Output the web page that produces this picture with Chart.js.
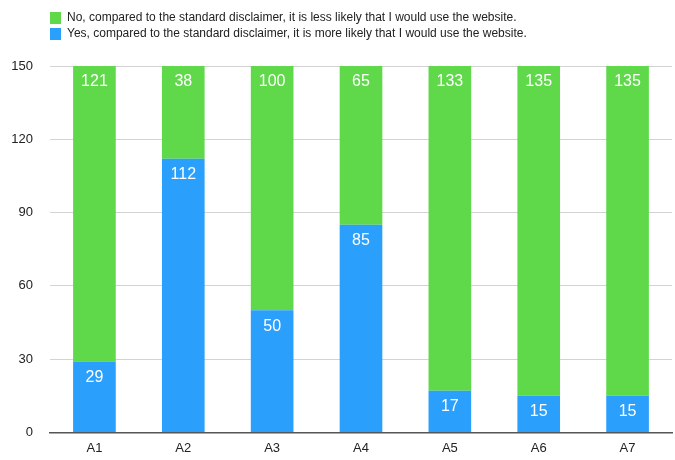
<!DOCTYPE html>
<html>
<head>
<meta charset="utf-8">
<script src="https://cdn.jsdelivr.net/npm/chart.js@4"></script>
<style>
  html, body { margin: 0; padding: 0; background: #fff; }
  #wrap { width: 675px; height: 460px; position: relative; }
</style>
</head>
<body>
<div id="wrap"><canvas id="chart"></canvas></div>
<script>
var categories = ["A1", "A2", "A3", "A4", "A5", "A6", "A7"];
var yesValues = [29, 112, 50, 85, 17, 15, 15];
var noValues = [121, 38, 100, 65, 133, 135, 135];
var yesLabel = "Yes, compared to the standard disclaimer, it is more likely that I would use the website.";
var noLabel = "No, compared to the standard disclaimer, it is less likely that I would use the website.";

Chart.defaults.font.family = "'Liberation Sans', Arial, sans-serif";
Chart.defaults.color = "#222";

// white numbers near the top of each segment
var valueLabels = {
  id: "valueLabels",
  afterDatasetsDraw: function(chart) {
    var ctx = chart.ctx;
    ctx.save();
    ctx.fillStyle = "#fff";
    ctx.font = "16px 'Liberation Sans', Arial, sans-serif";
    ctx.textAlign = "center";
    ctx.textBaseline = "middle";
    chart.data.datasets.forEach(function(ds, i) {
      chart.getDatasetMeta(i).data.forEach(function(bar, j) {
        ctx.fillText(ds.data[j], bar.x, bar.y + 16);
      });
    });
    ctx.restore();
  }
};

// push legend right to line up with the plot, and leave room under it
var legendSpace = {
  id: "legendSpace",
  beforeInit: function(chart) {
    var fit = chart.legend.fit;
    chart.legend.fit = function() {
      fit.bind(chart.legend)();
      this.height += 16;
    };
  },
  afterLayout: function(chart) {
    chart.legend.left = chart.chartArea.left - 4;
  }
};

const ctx = document.getElementById("chart");

new Chart(ctx, {
  type: "bar",
  data: {
    labels: categories,
    datasets: [
      {
        label: yesLabel,
        data: yesValues,
        backgroundColor: "#2A9FFB",
        categoryPercentage: 1,
        barPercentage: 0.48
      },
      {
        label: noLabel,
        data: noValues,
        backgroundColor: "#5FD94A",
        categoryPercentage: 1,
        barPercentage: 0.48
      }
    ]
  },
  options: {
    responsive: true,
    maintainAspectRatio: false,
    animation: false,
    layout: { padding: { left: 0, right: 3, top: 8, bottom: 4 } },
    plugins: {
      tooltip: { enabled: false },
      legend: {
        position: "top",
        align: "start",
        reverse: true,
        labels: {
          boxWidth: 11,
          boxHeight: 12,
          padding: 4,
          font: { size: 12 },
          color: "#222"
        }
      }
    },
    scales: {
      x: {
        stacked: true,
        grid: { display: false },
        border: { color: "#555", width: 1.5 },
        ticks: { font: { size: 13 }, color: "#222", padding: 0 }
      },
      y: {
        stacked: true,
        min: 0,
        max: 150,
        border: { display: false },
        grid: {
          color: "#d3d3d3",
          drawTicks: false
        },
        ticks: { stepSize: 30, font: { size: 13 }, color: "#222", padding: 17 },
        afterFit: function(scale) { scale.width = 50; }
      }
    }
  },
  plugins: [valueLabels, legendSpace]
});
</script>
</body>
</html>
